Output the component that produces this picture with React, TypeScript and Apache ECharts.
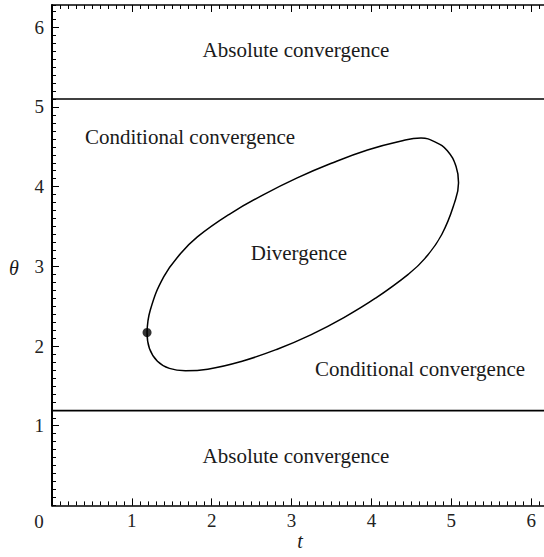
import { useEffect, useRef } from 'react';
import * as echarts from 'echarts';

// ---- data ----
const xTickValues = [0, 1, 2, 3, 4, 5, 6];
const yTickValues = [0, 1, 2, 3, 4, 5, 6];
const xRange = [0, 6.16];
const yRange = [0, 6.28];

// closed boundary of the divergence region (t, theta)
const curveT = [1.19, 1.22, 1.32, 1.47, 1.67, 1.95, 2.38, 2.82, 3.24, 3.66, 4.05, 4.46, 4.67, 4.88, 5.04, 5.09, 5.06, 4.95, 4.80, 4.62, 4.36, 3.95, 3.49, 3.07, 2.65, 2.23, 1.82, 1.61, 1.40, 1.23, 1.19];
const curveTheta = [2.17, 1.97, 1.81, 1.72, 1.69, 1.71, 1.81, 1.96, 2.14, 2.36, 2.60, 2.90, 3.10, 3.40, 3.80, 4.05, 4.25, 4.45, 4.56, 4.61, 4.57, 4.46, 4.29, 4.11, 3.90, 3.66, 3.37, 3.16, 2.87, 2.45, 2.17];

// horizontal boundaries between absolute and conditional convergence
const upperBoundaryT = [0, 6.16];
const upperBoundaryTheta = [5.1, 5.1];
const lowerBoundaryT = [0, 6.16];
const lowerBoundaryTheta = [1.19, 1.19];

const dotPoint = [1.19, 2.17];

const regionLabels = [
  'Absolute convergence',
  'Conditional convergence',
  'Divergence',
  'Conditional convergence',
  'Absolute convergence',
];

const SERIF = '"Liberation Serif", "DejaVu Serif", serif';

export default function App() {
  const ref = useRef<HTMLDivElement>(null);

  useEffect(() => {
    document.body.style.margin = '0';
    if (!ref.current) return;
    const chart = echarts.init(ref.current, undefined, { renderer: 'svg' });

    const labelPos = [
      [296, 50],
      [190, 137],
      [299, 253],
      [420, 369],
      [296, 456],
    ];

    const majorX = (position: 'top' | 'bottom', showLabel: boolean) => ({
      type: 'value',
      position,
      min: xRange[0],
      max: xRange[1],
      interval: 1,
      axisLine: { show: true, lineStyle: { color: '#000', width: 1.5 } },
      axisTick: { show: true, inside: true, length: 7, lineStyle: { color: '#000', width: 1 } },
      axisLabel: {
        show: showLabel,
        showMinLabel: false,
        showMaxLabel: false,
        fontFamily: SERIF,
        fontSize: 19,
        color: '#222',
        margin: 6,
        formatter: (v: number) => (xTickValues.includes(v) ? String(v) : ''),
      },
      splitLine: { show: false },
    });
    const minorX = (position: 'top' | 'bottom') => ({
      type: 'value',
      position,
      min: xRange[0],
      max: xRange[1],
      interval: 0.1,
      axisLine: { show: false },
      axisTick: { show: true, inside: true, length: 4, lineStyle: { color: '#000', width: 1 } },
      axisLabel: { show: false },
      splitLine: { show: false },
    });

    chart.setOption({
      animation: false,
      grid: { left: 52, right: 0, top: 5, bottom: 51.6, containLabel: false },
      xAxis: [majorX('bottom', true), minorX('bottom'), majorX('top', false), minorX('top')],
      yAxis: [
        {
          type: 'value',
          position: 'left',
          min: yRange[0],
          max: yRange[1],
          interval: 1,
          axisLine: { show: true, lineStyle: { color: '#000', width: 2 } },
          axisTick: { show: true, inside: true, length: 7, lineStyle: { color: '#000', width: 1 } },
          axisLabel: {
            showMinLabel: false,
            showMaxLabel: false,
            fontFamily: SERIF,
            fontSize: 19,
            color: '#222',
            margin: 8,
            formatter: (v: number) => (yTickValues.includes(v) ? String(v) : ''),
          },
          splitLine: { show: false },
        },
        {
          type: 'value',
          position: 'left',
          min: yRange[0],
          max: yRange[1],
          interval: 0.1,
          axisLine: { show: false },
          axisTick: { show: true, inside: true, length: 4, lineStyle: { color: '#000', width: 1 } },
          axisLabel: { show: false },
          splitLine: { show: false },
        },
      ],
      series: [
        {
          type: 'line',
          xAxisIndex: 0,
          yAxisIndex: 0,
          data: upperBoundaryT.map((t, i) => [t, upperBoundaryTheta[i]]),
          showSymbol: false,
          lineStyle: { color: '#000', width: 1.6 },
        },
        {
          type: 'line',
          xAxisIndex: 0,
          yAxisIndex: 0,
          data: lowerBoundaryT.map((t, i) => [t, lowerBoundaryTheta[i]]),
          showSymbol: false,
          lineStyle: { color: '#000', width: 1.6 },
        },
        {
          type: 'line',
          xAxisIndex: 0,
          yAxisIndex: 0,
          data: curveT.map((t, i) => [t, curveTheta[i]]),
          smooth: 0.45,
          showSymbol: false,
          lineStyle: { color: '#000', width: 1.5 },
        },
        {
          type: 'scatter',
          xAxisIndex: 0,
          yAxisIndex: 0,
          data: [dotPoint],
          symbolSize: 9,
          itemStyle: { color: '#000' },
        },
      ],
      graphic: [
        ...regionLabels.map((txt, i) => ({
          type: 'text',
          x: labelPos[i][0],
          y: labelPos[i][1],
          style: {
            text: txt,
            fontFamily: SERIF,
            fontSize: 21,
            fill: '#1a1a1a',
            textAlign: 'center',
            textVerticalAlign: 'middle',
          },
        })),
        {
          type: 'text',
          x: 39,
          y: 521,
          style: { text: '0', fontFamily: SERIF, fontSize: 19, fill: '#222', textAlign: 'center', textVerticalAlign: 'middle' },
        },
        {
          type: 'text',
          x: 14,
          y: 268,
          style: { text: 'θ', fontFamily: SERIF, fontStyle: 'italic', fontSize: 20, fill: '#1a1a1a', textAlign: 'center', textVerticalAlign: 'middle' },
        },
        {
          type: 'text',
          x: 300,
          y: 541,
          style: { text: 't', fontFamily: SERIF, fontStyle: 'italic', fontSize: 20, fill: '#1a1a1a', textAlign: 'center', textVerticalAlign: 'middle' },
        },
      ],
    });

    return () => chart.dispose();
  }, []);

  return <div ref={ref} style={{ width: 544, height: 557 }} />;
}
